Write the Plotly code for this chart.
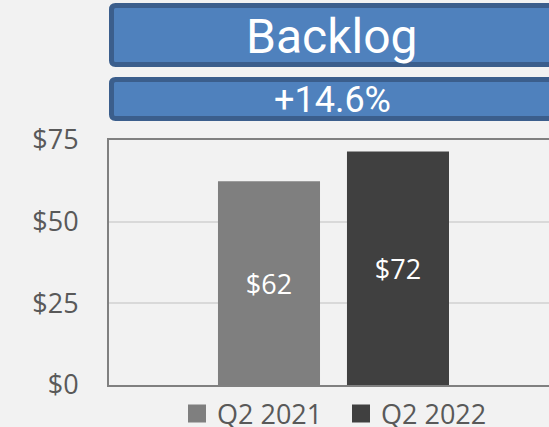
import plotly.graph_objects as go

# ---- data ----
series_names = ["Q2 2021", "Q2 2022"]
series_values = [62.4, 71.5]
series_colors = ["#7F7F7F", "#404040"]
category = ["Backlog"]
title_text = "Backlog"
change_text = "+14.6%"
y_ticks = [0, 25, 50, 75]
y_tick_labels = ["$0", "$25", "$50", "$75"]

W, H = 549, 440
L, R, T, B = 109, 0, 140, 55
PW, PH = W - L - R, H - T - B

def px_x(sx):
    return (sx - L) / PW

def px_y(sy):
    return (H - B - sy) / PH

fig = go.Figure()

for name, val, col in zip(series_names, series_values, series_colors):
    fig.add_trace(go.Bar(
        x=category, y=[val], name=name, marker=dict(color=col, line=dict(width=0)),
        texttemplate="$%{y:.0f}", textposition="inside", insidetextanchor="middle",
        textfont=dict(family="Open Sans", size=27, color="white"),
        showlegend=False, hoverinfo="skip",
    ))
    # legend proxy
    fig.add_trace(go.Scatter(
        x=[None], y=[None], mode="markers", name=name,
        marker=dict(symbol="square", size=16, color=col, line=dict(width=2, color=col)),
    ))

def rounded_box(x0, y0, x1, y1, r=4):
    rx, ry = r / PW, r / PH
    a0, a1 = px_x(x0), px_x(x1)
    b0, b1 = px_y(y0), px_y(y1)
    return (f"M{a0+rx},{b0} L{a1-rx},{b0} Q{a1},{b0} {a1},{b0-ry} "
            f"L{a1},{b1+ry} Q{a1},{b1} {a1-rx},{b1} L{a0+rx},{b1} "
            f"Q{a0},{b1} {a0},{b1+ry} L{a0},{b0-ry} Q{a0},{b0} {a0+rx},{b0} Z")

shapes = []
for (y0, y1) in [(5.5, 64.5), (79.5, 118.5)]:
    shapes.append(dict(type="path", xref="paper", yref="paper",
                       path=rounded_box(111.5, y0, 556, y1),
                       fillcolor="#4F81BD", line=dict(color="#3B5E8C", width=5),
                       layer="above"))

annotations = [
    dict(text=title_text, xref="paper", yref="paper", x=px_x(331), y=px_y(36),
         xanchor="center", yanchor="middle", showarrow=False,
         font=dict(family="Roboto", size=48, color="white")),
    dict(text=change_text, xref="paper", yref="paper", x=px_x(332), y=px_y(100),
         xanchor="center", yanchor="middle", showarrow=False,
         font=dict(family="Roboto", size=36, color="white")),
]

fig.update_layout(
    width=W, height=H,
    margin=dict(l=L, r=R, t=T, b=B, pad=0),
    paper_bgcolor="#F2F2F2", plot_bgcolor="#F2F2F2",
    barmode="group", bargap=0.4254, bargroupgap=0.209,
    shapes=shapes, annotations=annotations,
    showlegend=True,
    legend=dict(orientation="h", x=px_x(177), y=px_y(414), xanchor="left", yanchor="middle",
                font=dict(family="Open Sans", size=27, color="#595959"),
                bgcolor="rgba(0,0,0,0)", entrywidth=119, entrywidthmode="pixels",
                itemclick=False, itemdoubleclick=False),
    xaxis=dict(range=[-0.5, 0.48], showticklabels=False, showgrid=False, zeroline=False,
               showline=True, mirror=True, linecolor="#808080", linewidth=2, ticks=""),
    yaxis=dict(range=[0, 75], tickmode="array", tickvals=y_ticks, ticktext=y_tick_labels,
               showgrid=True, gridcolor="#D9D9D9", gridwidth=2, zeroline=False,
               showline=True, linecolor="#808080", linewidth=2,
               ticks="outside", ticklen=23, tickcolor="rgba(0,0,0,0)",
               tickfont=dict(family="Open Sans", size=27, color="#595959")),
)

fig.write_html(
    "out.html",
    config={"displayModeBar": False, "staticPlot": True},
    post_script="document.body.style.margin='0';document.body.style.overflow='hidden';"
                "document.body.style.background='#F2F2F2';",
)
